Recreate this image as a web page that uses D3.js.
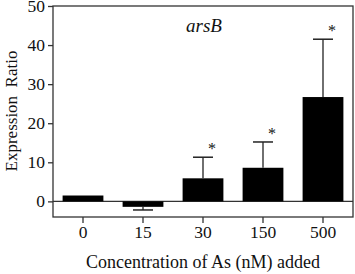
<!DOCTYPE html>
<html>
<head>
<meta charset="utf-8">
<script src="https://cdn.jsdelivr.net/npm/d3@7"></script>
<style>
  body { margin: 0; background: #fff; }
  text { font-family: "Liberation Serif", "DejaVu Serif", serif; fill: #111; }
</style>
</head>
<body>
<div id="chart-area"></div>
<script>
// data
var conc = ["0", "15", "30", "150", "500"];
var ratio = [1.5, -1.4, 5.9, 8.6, 26.7];
var err = [0, 0.8, 5.4, 6.6, 14.8];
var star = [false, false, true, true, true];
var yTicks = [0, 10, 20, 30, 40, 50];

var W = 355, H = 274;
var mLeft = 53, mRight = 353, mTop = 6, mBottom = 217;

var svg = d3.select("#chart-area").append("svg")
    .attr("width", W)
    .attr("height", H);

var rows = conc.map((c, i) => ({ conc: c, v: ratio[i], e: err[i], star: star[i] }));

var x = d3.scaleBand()
    .domain(conc)
    .range([mLeft, mRight])
    .paddingInner(0.32)
    .paddingOuter(0.16);

var y = d3.scaleLinear()
    .domain([-4, 50])
    .range([mBottom, mTop]);

// frame
svg.append("rect")
    .attr("x", mLeft).attr("y", mTop)
    .attr("width", mRight - mLeft).attr("height", mBottom - mTop)
    .attr("fill", "none").attr("stroke", "#333").attr("stroke-width", 1.3);

// zero line
svg.append("line")
    .attr("x1", mLeft).attr("x2", mRight)
    .attr("y1", y(0)).attr("y2", y(0))
    .attr("stroke", "#333").attr("stroke-width", 1.3);

// axes
var yAxis = svg.append("g")
    .attr("transform", "translate(" + mLeft + ",0)")
    .call(d3.axisLeft(y).tickValues(yTicks).tickSize(5).tickPadding(3));
var xAxis = svg.append("g")
    .attr("transform", "translate(0," + mBottom + ")")
    .call(d3.axisBottom(x).tickSize(6).tickPadding(3));
[yAxis, xAxis].forEach(function (g) {
    g.select(".domain").remove();
    g.selectAll("line").attr("stroke", "#333").attr("stroke-width", 1.3);
    g.selectAll("text").style("font-size", "17.5px")
        .style("font-family", "Liberation Serif").attr("fill", "#111");
});

// bars
svg.selectAll("rect.bar")
    .data(rows)
    .enter()
    .append("rect")
        .attr("class", "bar")
        .attr("x", (d) => x(d.conc))
        .attr("y", (d) => y(Math.max(d.v, 0)))
        .attr("width", x.bandwidth())
        .attr("height", (d) => Math.abs(y(d.v) - y(0)))
        .attr("fill", "#000");

// error bars
var cx = (d) => x(d.conc) + x.bandwidth() / 2;
var errEnd = (d) => y(d.v + (d.v < 0 ? -d.e : d.e));
var eb = svg.selectAll("g.err")
    .data(rows.filter((d) => d.e > 0))
    .enter()
    .append("g")
    .attr("class", "err");
eb.append("line")
    .attr("x1", cx).attr("x2", cx)
    .attr("y1", (d) => y(d.v))
    .attr("y2", errEnd)
    .attr("stroke", "#222").attr("stroke-width", 1.3);
eb.append("line")
    .attr("x1", (d) => cx(d) - 10)
    .attr("x2", (d) => cx(d) + 10)
    .attr("y1", errEnd).attr("y2", errEnd)
    .attr("stroke", "#222").attr("stroke-width", 1.5);

// significance marks
svg.selectAll("text.star")
    .data(rows.filter((d) => d.star))
    .enter()
    .append("text")
        .attr("class", "star")
        .attr("x", (d) => cx(d) + 9)
        .attr("y", (d) => y(d.v + d.e) - 3)
        .attr("text-anchor", "middle")
        .attr("fill", "#111")
        .style("font-family", "Liberation Serif")
        .style("font-size", "16px")
        .text("*");

// gene label
svg.append("text")
    .attr("x", 186).attr("y", 32)
    .style("font-size", "19px")
    .style("font-family", "Liberation Serif")
    .style("font-style", "italic")
    .text("arsB");

// axis titles
svg.append("text")
    .attr("x", 203).attr("y", 268)
    .attr("text-anchor", "middle")
    .style("font-size", "18px")
    .text("Concentration of As (nM) added");
svg.append("text")
    .attr("transform", "translate(17,111) rotate(-90)")
    .attr("text-anchor", "middle")
    .style("font-size", "17px")
    .text("Expression\u00a0\u00a0Ratio");
</script>
</body>
</html>
